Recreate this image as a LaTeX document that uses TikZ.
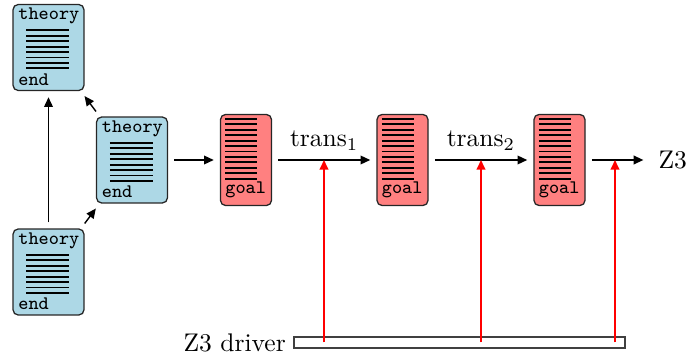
\documentclass[tikz,border=0pt]{standalone}
\usetikzlibrary{arrows.meta,calc}
\definecolor{theorycol}{RGB}{173,216,230}
\definecolor{goalcol}{RGB}{255,128,128}
\tikzset{
  theorybox/.style={draw=black!85, line width=0.5pt, rounded corners=2pt, fill=theorycol,
    minimum width=27.8pt, minimum height=33.7pt, inner sep=0pt},
  goalbox/.style={draw=black!85, line width=0.5pt, rounded corners=2pt, fill=goalcol,
    minimum width=20pt, minimum height=35.7pt, inner sep=0pt},
  boxtext/.style={inner sep=0pt, anchor=base west, font=\fontsize{7.5}{8}\selectfont\ttfamily},
  rulelines/.style={line width=0.75pt},
  flow/.style={-{Triangle[length=3.8pt,width=3.4pt]}, line width=0.55pt, shorten <=2.4pt, shorten >=2.4pt},
  feed/.style={red, -{Triangle[length=3.8pt,width=3.4pt]}, line width=0.75pt},
  driverbar/.style={draw=black!75, fill=white, line width=0.6pt, minimum width=129.8pt,
    minimum height=4.3pt, inner sep=0pt},
}
\begin{document}
\begin{tikzpicture}[x=0.392pt,y=-0.392pt]
\useasboundingbox (0,0) rectangle (686,356);
% theory boxes
\node[theorybox] (top) at (48.5,47.5) {};
\node[theorybox] (mid) at (132,160) {};
\node[theorybox] (bot) at (48.5,272) {};
\foreach \n in {top,mid,bot}{
  \foreach \i in {0,...,7}{
    \draw[rulelines] ($(\n.north west)+(14,{26.5+\i*5.43})$) -- ++(43,0);
  }
  \node[boxtext] (\n-head) at ($(\n.north west)+(5.5,16)$) {theory};
  \node[boxtext] (\n-foot) at ($(\n.south west)+(5.5,-6)$) {end};
}
% goal boxes
\node[goalbox] (g1) at (246,160) {};
\node[goalbox] (g2) at (402.5,160) {};
\node[goalbox] (g3) at (559.5,160) {};
\foreach \n in {g1,g2,g3}{
  \foreach \i in {0,...,11}{
    \draw[rulelines] ($(\n.north west)+(5.5,{5+\i*5.45})$) -- ++(32,0);
  }
  \node[boxtext] (\n-foot) at ($(\n.north west)+(5,80)$) {goal};
}
\node[inner sep=3.33pt, anchor=west] (z3) at (649.5,160) {Z3};
% driver
\node[driverbar] (drv) at (459.5,342.5) {};
\node[anchor=east, inner sep=2.7pt] (drvlabel) at (drv.west) {Z3 driver};
% connectors
\draw[flow] (bot) -- (top);
\draw[flow] (mid) -- (top);
\draw[flow] (bot) -- (mid);
\draw[flow] (mid) -- (g1);
\draw[flow] (g1) -- node[above] (t1) {trans$_1$} (g2);
\draw[flow] (g2) -- node[above] (t2) {trans$_2$} (g3);
\draw[flow] (g3) -- (z3);
\coordinate (f1) at (324,160);
\coordinate (f2) at (481,160);
\coordinate (f3) at (615,160);
\foreach \f in {f1,f2,f3}{
  \draw[feed] (drv.center -| \f) -- (\f);
}
\end{tikzpicture}
\end{document}
